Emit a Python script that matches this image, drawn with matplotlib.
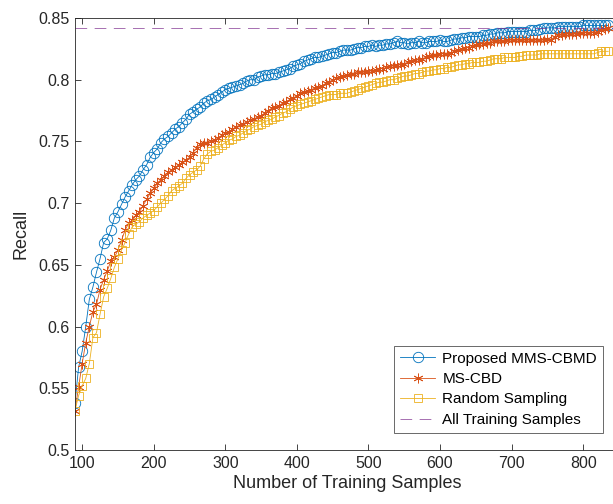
import numpy as np
import matplotlib
matplotlib.use("Agg")
import matplotlib.pyplot as plt

plt.rcParams['font.family'] = ['Liberation Sans', 'DejaVu Sans']

# Number of training samples (x positions)
n_samples = np.arange(90, 840, 5)

recall_mms_cbmd = [
    .538, .567, .580, .600, .622, .632, .644, .655, .668, .671,
    .678, .688, .693, .699, .705, .710, .715, .719, .722, .727,
    .731, .737, .741, .744, .749, .752, .754, .757, .760, .762,
    .765, .768, .772, .774, .776, .778, .781, .783, .784, .786,
    .788, .790, .792, .793, .794, .795, .796, .797, .799, .800,
    .800, .802, .803, .804, .804, .805, .805, .806, .807, .808,
    .809, .811, .812, .813, .815, .816, .817, .818, .818, .819,
    .820, .821, .822, .822, .823, .824, .824, .824, .825, .826,
    .826, .827, .827, .828, .827, .828, .828, .829, .829, .830,
    .831, .830, .830, .829, .830, .830, .831, .830, .830, .831,
    .831, .831, .832, .831, .831, .832, .833, .833, .834, .834,
    .835, .835, .835, .835, .836, .836, .837, .837, .838, .838,
    .838, .839, .839, .839, .839, .839, .839, .840, .840, .840,
    .841, .842, .842, .842, .842, .843, .843, .843, .843, .843,
    .843, .843, .844, .844, .844, .844, .844, .844, .844, .844,
]

recall_ms_cbd = [
    .532, .551, .570, .587, .600, .612, .618, .630, .638, .645,
    .653, .656, .662, .670, .678, .684, .686, .690, .693, .698,
    .703, .708, .712, .716, .719, .722, .725, .727, .729, .731,
    .733, .735, .737, .741, .745, .748, .749, .749, .750, .751,
    .753, .755, .757, .758, .760, .762, .763, .764, .766, .767,
    .768, .770, .771, .773, .775, .777, .778, .779, .781, .782,
    .784, .785, .787, .789, .790, .791, .792, .793, .794, .795,
    .797, .798, .800, .801, .802, .803, .804, .805, .805, .806,
    .806, .806, .807, .807, .808, .809, .809, .810, .811, .811,
    .812, .812, .813, .814, .815, .816, .816, .817, .818, .819,
    .820, .820, .821, .821, .821, .822, .823, .824, .825, .826,
    .826, .827, .828, .829, .829, .830, .830, .831, .831, .831,
    .831, .832, .832, .832, .832, .832, .832, .832, .832, .832,
    .832, .832, .833, .832, .835, .836, .836, .837, .837, .837,
    .837, .838, .838, .838, .838, .838, .839, .840, .841, .842,
]

recall_random = [
    .532, .544, .552, .558, .570, .591, .595, .610, .624, .631,
    .639, .648, .655, .662, .668, .675, .681, .683, .685, .688,
    .690, .692, .694, .697, .700, .703, .706, .710, .712, .714,
    .716, .720, .723, .725, .727, .730, .736, .740, .742, .743,
    .745, .747, .749, .751, .752, .754, .755, .757, .759, .760,
    .762, .763, .764, .766, .767, .768, .770, .771, .773, .774,
    .776, .778, .779, .780, .781, .782, .783, .784, .785, .786,
    .787, .788, .788, .788, .789, .789, .789, .790, .791, .792,
    .793, .794, .795, .796, .797, .798, .798, .799, .800, .800,
    .801, .802, .803, .803, .804, .805, .805, .806, .807, .807,
    .808, .808, .809, .809, .810, .810, .811, .812, .812, .813,
    .813, .814, .814, .814, .815, .815, .816, .817, .817, .817,
    .818, .818, .818, .818, .819, .819, .820, .820, .820, .820,
    .821, .821, .821, .821, .821, .821, .821, .821, .821, .821,
    .821, .821, .821, .821, .821, .821, .822, .823, .823, .823,
]

recall_all_samples = 0.842

series_labels = ['Proposed MMS-CBMD', 'MS-CBD', 'Random Sampling', 'All Training Samples']
x_ticks = [100, 200, 300, 400, 500, 600, 700, 800]
y_ticks = [0.5, 0.55, 0.6, 0.65, 0.7, 0.75, 0.8, 0.85]
y_ticklabels = ['0.5', '0.55', '0.6', '0.65', '0.7', '0.75', '0.8', '0.85']

W, H = 613, 504
fig = plt.figure(figsize=(W / 100, H / 100), dpi=100)
ax_left, ax_right, ax_top, ax_bottom = 75, 619, 18, 450
ax = fig.add_axes([ax_left / W, 1 - ax_bottom / H,
                   (ax_right - ax_left) / W, (ax_bottom - ax_top) / H])

c_blue = '#0072BD'
c_orange = '#D95319'
c_yellow = '#EDB120'
c_purple = '#7E2F8E'

ax.plot(n_samples, recall_mms_cbmd, color=c_blue, lw=0.6, marker='o',
        markersize=7.5, markerfacecolor='none', markeredgewidth=0.6,
        label=series_labels[0])
ax.plot(n_samples, recall_ms_cbd, color=c_orange, lw=0.6, marker=(6, 2, 0),
        markersize=7, markeredgewidth=0.6,
        label=series_labels[1])
ax.plot(n_samples, recall_random, color=c_yellow, lw=0.6, marker='s',
        markersize=5.5, markerfacecolor='none', markeredgewidth=0.6,
        label=series_labels[2])
ax.axhline(recall_all_samples, color=c_purple, lw=0.6, alpha=0.8,
           dashes=(14, 9), label=series_labels[3])

ax.set_xlim(90, 850)
ax.set_ylim(0.5, 0.85)
ax.set_xticks(x_ticks)
ax.set_xticklabels([str(t) for t in x_ticks])
ax.set_yticks(y_ticks)
ax.set_yticklabels(y_ticklabels)

ax.tick_params(direction='in', length=4, width=0.6, colors='#262626',
               labelsize=11.5, top=True, right=True, pad=4)
for s in ax.spines.values():
    s.set_color('#262626')
    s.set_linewidth(0.6)

ax.set_xlabel('Number of Training Samples', fontsize=13, color='#262626', labelpad=3)
ax.set_ylabel('Recall', fontsize=13, color='#262626', labelpad=6)

leg = ax.legend(loc='lower right', bbox_to_anchor=(603 / W, 1 - 433 / H),
                bbox_transform=fig.transFigure, fontsize=11, frameon=True,
                fancybox=False, edgecolor='#262626', borderpad=0.4,
                labelspacing=0.42, handlelength=2.3, handletextpad=0.45,
                borderaxespad=0)
leg.get_frame().set_linewidth(0.6)

fig.savefig('out.png', dpi=100)
